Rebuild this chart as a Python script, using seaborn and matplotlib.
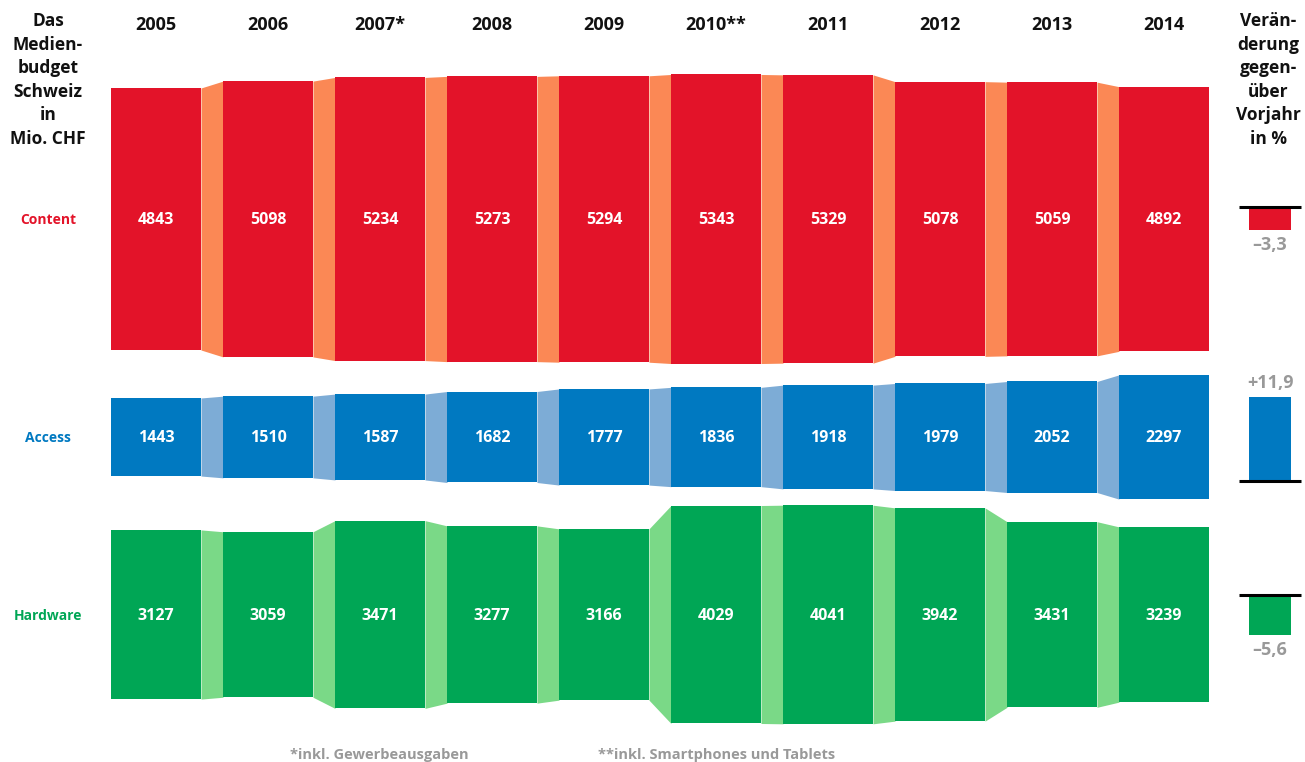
import seaborn as sns
import matplotlib.pyplot as plt
import numpy as np

# Daten
years = ['2005', '2006', '2007*', '2008', '2009', '2010**', '2011', '2012', '2013', '2014']
content = [4843, 5098, 5234, 5273, 5294, 5343, 5329, 5078, 5059, 4892]
access = [1443, 1510, 1587, 1682, 1777, 1836, 1918, 1979, 2052, 2297]
hardware = [3127, 3059, 3471, 3277, 3166, 4029, 4041, 3942, 3431, 3239]
categories = ['Content', 'Access', 'Hardware']
change_pct = [-3.3, 11.9, -5.6]
change_labels = ['\u20133,3', '+11,9', '\u20135,6']

colors = ['#E31329', '#0079C1', '#00A655']
link_colors = ['#FB8855', '#7DACD6', '#7AD987']

sns.set_theme(style='white')
plt.rcParams['font.family'] = ['Open Sans', 'DejaVu Sans']

fig = plt.figure(figsize=(13.05, 7.62), dpi=100)
ax = fig.add_axes([0, 0, 1, 1])
ax.set_xlim(0, 1305)
ax.set_ylim(762, 0)
ax.axis('off')

px_per_mio = 0.0541   # Skalierung Mio. CHF -> Pixel
px_per_pct = 7.1
row_center = [219, 437, 614.5]
x0, step, bw = 156, 112, 90
xs = x0 + step * np.arange(len(years))

for r, vals in enumerate([content, access, hardware]):
    h = np.array(vals) * px_per_mio
    bottoms = row_center[r] - h / 2
    ax.bar(xs, h, width=bw, bottom=bottoms, color=colors[r], linewidth=0, zorder=2)
    # Verbindungen zwischen den Jahren
    for i in range(len(vals) - 1):
        xa, xb = xs[i] + bw / 2, xs[i + 1] - bw / 2
        ax.fill_between([xa, xb], [bottoms[i], bottoms[i + 1]],
                        [bottoms[i] + h[i], bottoms[i + 1] + h[i + 1]],
                        color=link_colors[r], linewidth=0, zorder=1)
    for x, v in zip(xs, vals):
        ax.text(x, row_center[r] + 1, str(v), color='white', fontsize=11.5,
                fontweight='bold', ha='center', va='center', zorder=3)
    ax.text(48, row_center[r] + 1, categories[r], color=colors[r], fontsize=10,
            fontweight='bold', ha='center', va='center')

for x, y in zip(xs, years):
    ax.text(x, 25, y, fontsize=13, fontweight='bold', ha='center', va='center',
            color='#111111')

ax.text(48, 12, 'Das\nMedien-\nbudget\nSchweiz\nin\nMio. CHF', fontsize=12.5,
        fontweight='bold', ha='center', va='top', linespacing=1.4, color='#111111')
ax.text(1268, 12, 'Verän-\nderung\ngegen-\nüber\nVorjahr\nin %', fontsize=12.5,
        fontweight='bold', ha='center', va='top', linespacing=1.4, color='#111111')

# Veränderung gegenüber Vorjahr
base_y = [207, 481, 595]
for r, pct in enumerate(change_pct):
    hh = -pct * px_per_pct
    ax.bar(1270, hh, width=42, bottom=base_y[r], color=colors[r], linewidth=0)
    ax.plot([1239, 1301], [base_y[r], base_y[r]], color='black', lw=2.2,
            solid_capstyle='butt')
    if pct < 0:
        ly = base_y[r] + abs(hh) + 15
    else:
        ly = base_y[r] - abs(hh) - 14
    ax.text(1270, ly, change_labels[r], color='#999999', fontsize=13,
            fontweight='bold', ha='center', va='center')

ax.text(290, 755, '*inkl. Gewerbeausgaben', color='#999999', fontsize=10.5,
        fontweight='bold', ha='left', va='center')
ax.text(598, 755, '**inkl. Smartphones und Tablets', color='#999999', fontsize=10.5,
        fontweight='bold', ha='left', va='center')

plt.savefig('out.png', dpi=100)
